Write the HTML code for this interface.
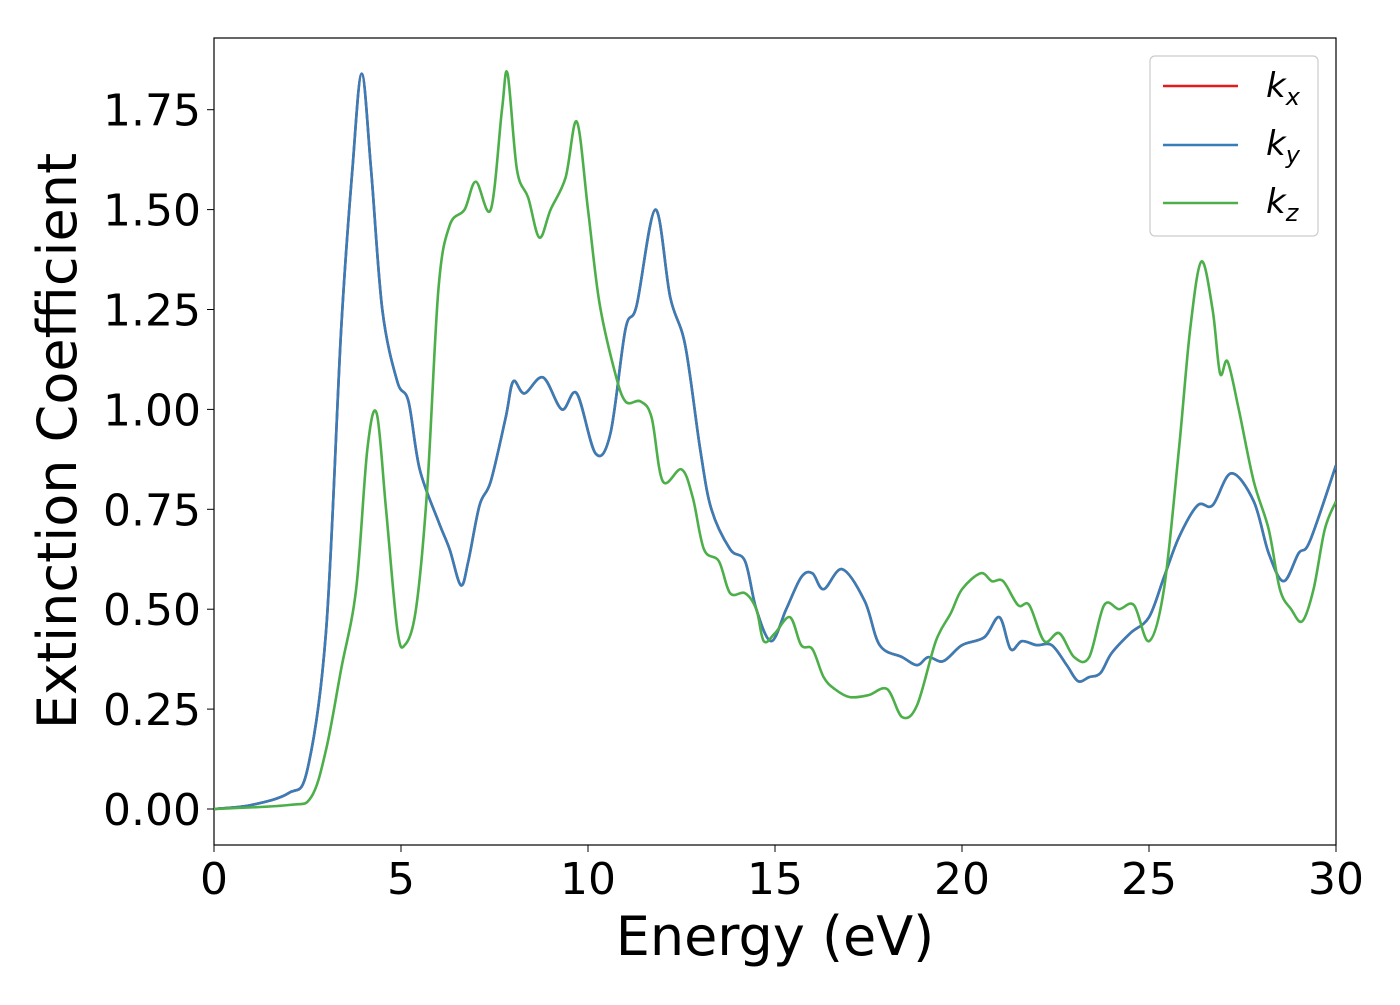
<!DOCTYPE html>
<html><head><meta charset="utf-8"><style>
body{margin:0;background:#fff}
svg text{font-family:"DejaVu Sans","Liberation Sans",sans-serif;fill:#000}
</style></head><body>
<svg id="chart" width="1400" height="1000">
<rect x="214" y="38" width="1122" height="807" fill="#fff" stroke="#000" stroke-width="1.2"/>
<g id="ticks"></g>
<g id="series" clip-path="url(#clip)"></g>
<defs><clipPath id="clip"><rect x="214" y="38" width="1122" height="807"/></clipPath></defs>
<text x="775" y="955" font-size="54" text-anchor="middle">Energy (eV)</text>
<text transform="translate(76,441) rotate(-90)" font-size="54" text-anchor="middle">Extinction Coefficient</text>
<g>
<rect x="1150" y="56" width="168" height="180" rx="5" fill="#fff" stroke="#ccc" stroke-width="1.2"/>
<g><line x1="1163" y1="86" x2="1238" y2="86" stroke="#e41a1c" stroke-width="2.5"/><text x="1266" y="97" font-size="34" font-style="italic">k<tspan font-size="24" dy="8">x</tspan></text></g>
<g><line x1="1163" y1="145" x2="1238" y2="145" stroke="#377eb8" stroke-width="2.5"/><text x="1266" y="155" font-size="34" font-style="italic">k<tspan font-size="24" dy="8">y</tspan></text></g>
<g><line x1="1163" y1="203" x2="1238" y2="203" stroke="#4daf4a" stroke-width="2.5"/><text x="1266" y="213" font-size="34" font-style="italic">k<tspan font-size="24" dy="8">z</tspan></text></g>
</g>
</svg>
<script>
const xTicks=[0,5,10,15,20,25,30];
const yTicks=[0,0.25,0.5,0.75,1.0,1.25,1.5,1.75];
const yTickLabels=["0.00","0.25","0.50","0.75","1.00","1.25","1.50","1.75"];
const kxyE=[0,1,2,2.5,3,3.4,3.7,3.95,4.2,4.5,4.9,5.2,5.5,6,6.3,6.6,6.8,7.1,7.4,7.8,8.0,8.3,8.8,9.3,9.7,10.2,10.6,11,11.3,11.8,12.2,12.6,13,13.3,13.8,14.2,14.5,14.9,15.3,15.7,16,16.3,16.8,17.4,17.8,18.4,18.8,19.1,19.5,20,20.6,21,21.3,21.6,22,22.4,22.8,23.1,23.4,23.7,24,24.5,25,25.4,25.8,26.3,26.7,27.2,27.8,28.2,28.6,29,29.3,30];
const kxyV=[0,0.01,0.04,0.1,0.45,1.2,1.6,1.84,1.6,1.25,1.07,1.02,0.85,0.72,0.65,0.56,0.62,0.76,0.82,0.98,1.07,1.04,1.08,1.0,1.04,0.89,0.94,1.2,1.26,1.5,1.28,1.16,0.9,0.75,0.65,0.62,0.5,0.42,0.5,0.58,0.59,0.55,0.6,0.52,0.41,0.38,0.36,0.38,0.37,0.41,0.43,0.48,0.40,0.42,0.41,0.41,0.36,0.32,0.33,0.34,0.39,0.44,0.48,0.58,0.68,0.76,0.76,0.84,0.77,0.64,0.57,0.64,0.67,0.86];
const kzE=[0,2,2.6,3,3.4,3.8,4.1,4.35,4.6,4.9,5.1,5.4,5.7,6,6.3,6.7,7,7.4,7.7,7.85,8.1,8.4,8.7,9,9.4,9.7,10,10.3,10.7,11,11.4,11.7,12,12.5,12.8,13.1,13.5,13.8,14.2,14.5,14.7,15,15.4,15.7,16,16.3,16.6,17,17.5,18,18.4,18.8,19.3,19.7,20,20.5,20.8,21.1,21.5,21.8,22.2,22.6,23,23.4,23.8,24.2,24.6,25,25.4,25.8,26.1,26.4,26.7,26.9,27.1,27.4,27.8,28.2,28.5,28.8,29.1,29.4,29.7,30];
const kzV=[0,0.01,0.03,0.15,0.35,0.55,0.9,0.99,0.75,0.45,0.41,0.5,0.8,1.3,1.46,1.5,1.57,1.5,1.75,1.84,1.6,1.53,1.43,1.5,1.58,1.72,1.5,1.27,1.1,1.02,1.02,0.98,0.82,0.85,0.78,0.65,0.62,0.54,0.54,0.5,0.42,0.44,0.48,0.41,0.40,0.33,0.30,0.28,0.285,0.30,0.23,0.26,0.42,0.49,0.55,0.59,0.57,0.57,0.51,0.51,0.42,0.44,0.38,0.38,0.51,0.50,0.51,0.42,0.55,0.9,1.2,1.37,1.25,1.09,1.12,1.0,0.82,0.7,0.55,0.50,0.47,0.55,0.7,0.77];
const X=e=>214+e*1122/30;
const Y=v=>809-v*399.6;
const NS="http://www.w3.org/2000/svg";
const tg=document.getElementById('ticks');
xTicks.forEach(t=>{
 const l=document.createElementNS(NS,'line');
 l.setAttribute('x1',X(t));l.setAttribute('x2',X(t));l.setAttribute('y1',845);l.setAttribute('y2',852);l.setAttribute('stroke','#000');
 
 
 tg.appendChild(l);
 const tx=document.createElementNS(NS,'text');
 tx.setAttribute('x',X(t));tx.setAttribute('y',894);tx.setAttribute('font-size','44');tx.setAttribute('text-anchor','middle');
 tx.textContent=t;
 
 
 tg.appendChild(tx);
});
yTicks.forEach((t,i)=>{
 const l=document.createElementNS(NS,'line');
 l.setAttribute('x1',207);l.setAttribute('x2',214);l.setAttribute('y1',Y(t));l.setAttribute('y2',Y(t));l.setAttribute('stroke','#000');
 
 
 tg.appendChild(l);
 const tx=document.createElementNS(NS,'text');
 tx.setAttribute('x',201);tx.setAttribute('y',Y(t)+16);tx.setAttribute('font-size','44');tx.setAttribute('text-anchor','end');
 tx.textContent=yTickLabels[i];
 
 
 tg.appendChild(tx);
});
function pathD(E,V){
 const p=E.map((e,i)=>[X(e),Y(V[i])]);
 let d='M'+p[0][0]+','+p[0][1];
 for(let i=0;i<p.length-1;i++){
  const p0=p[Math.max(0,i-1)],p1=p[i],p2=p[i+1],p3=p[Math.min(p.length-1,i+2)];
  const c1=[p1[0]+(p2[0]-p0[0])/6,p1[1]+(p2[1]-p0[1])/6];
  const c2=[p2[0]-(p3[0]-p1[0])/6,p2[1]-(p3[1]-p1[1])/6];
  d+=` C${c1[0]},${c1[1]} ${c2[0]},${c2[1]} ${p2[0]},${p2[1]}`;
 }
 return d;
}
const sg=document.getElementById('series');
function addLine(E,V,color,name){
 const pa=document.createElementNS(NS,'path');
 pa.setAttribute('d',pathD(E,V));pa.setAttribute('fill','none');pa.setAttribute('stroke',color);pa.setAttribute('stroke-width','2.6');
 
 
 sg.appendChild(pa);
}
addLine(kxyE,kxyV,'#e41a1c','kx-line');
addLine(kxyE,kxyV,'#377eb8','ky-line');
addLine(kzE,kzV,'#4daf4a','kz-line');
</script>
</body></html>
